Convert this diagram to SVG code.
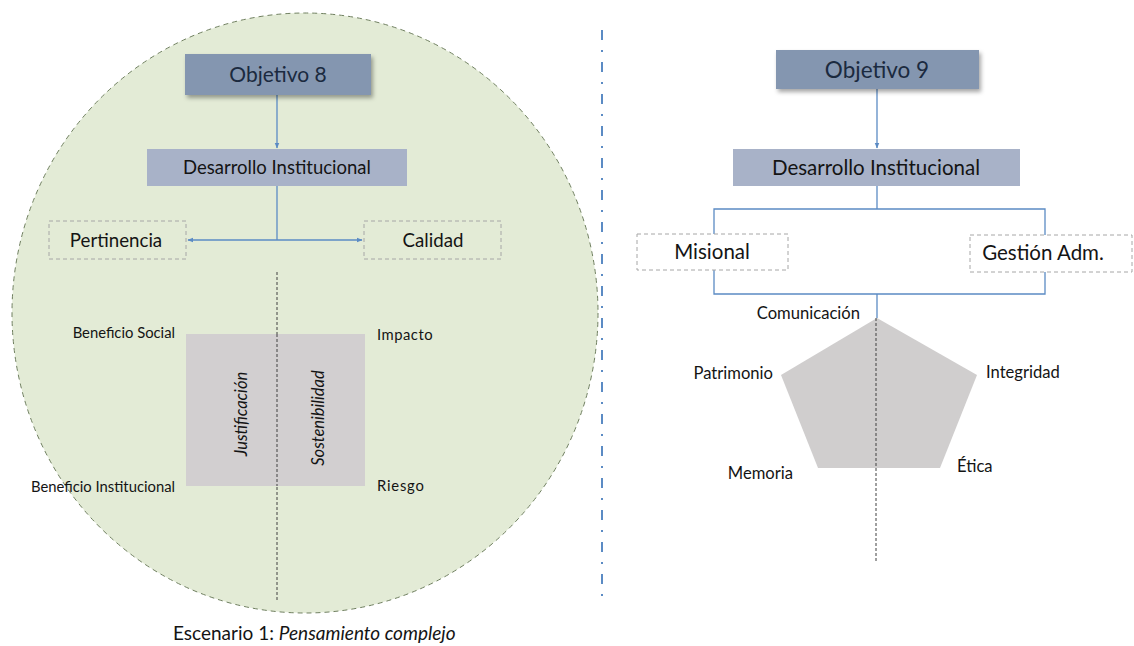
<svg xmlns="http://www.w3.org/2000/svg" width="1134" height="646" viewBox="0 0 1134 646">
<style>
text{font-family:"Lato","Open Sans","Liberation Sans",sans-serif;fill:#141414}
.t8{font-size:21px;fill:#1b2a3f}
.t9{font-size:22.5px;fill:#1b2a3f}
.s8{font-size:18.5px}
.s9{font-size:20.5px}
.b8{font-size:18.7px}
.b9{font-size:20.5px}
.lblL{font-size:14.8px}
.lblR{font-size:16.6px}
.ital{font-size:16.5px;font-style:italic}
.obj{fill:#8496b0}
.des{fill:#a8b2c8}
.dbox{fill:none;stroke:#a6a6a6;stroke-width:1;stroke-dasharray:4 3}
.wbox{fill:#ffffff;stroke:#a6a6a6;stroke-width:1;stroke-dasharray:4 3}
.conn{stroke:#5b8bc4;stroke-width:1.3;fill:none}
.dot{stroke:#404040;stroke-width:1;stroke-dasharray:3 2;fill:none}
</style>
<defs>
<marker id="ah" viewBox="0 0 10 10" refX="9" refY="5" markerWidth="6" markerHeight="6" orient="auto-start-reverse" markerUnits="userSpaceOnUse">
<path d="M0,1 L10,5 L0,9 z" fill="#5b8bc4"/>
</marker>
<filter id="sh" x="-10%" y="-20%" width="130%" height="150%">
<feDropShadow dx="2" dy="3" stdDeviation="2" flood-color="#000" flood-opacity="0.35"/>
</filter>
</defs>
<rect width="1134" height="646" fill="#ffffff"/>

<g id="scenario1">
<ellipse cx="305" cy="313" rx="293" ry="300" fill="#e3ebd6" stroke="#6f7f5f" stroke-width="1" stroke-dasharray="5 4"/>
</g>

<g id="separator">
<line x1="602" y1="30" x2="602" y2="602" stroke="#5b8bc4" stroke-width="2" stroke-dasharray="10 10 2 10"/>
</g>

<g id="connectors">
<line class="conn" x1="277" y1="95" x2="277" y2="148" marker-end="url(#ah)"/>
<line class="conn" x1="277" y1="186" x2="277" y2="240"/>
<line class="conn" x1="188" y1="240" x2="362" y2="240" marker-start="url(#ah)" marker-end="url(#ah)"/>
<line class="dot" x1="277" y1="272" x2="277" y2="600"/>
<line class="conn" x1="877" y1="89" x2="877" y2="148" marker-end="url(#ah)"/>
<line class="conn" x1="877" y1="186" x2="877" y2="209"/>
<polyline class="conn" points="714,234 714,209 1045,209 1045,235"/>
<polyline class="conn" points="714,270 714,294 1045,294 1045,272"/>
<line class="conn" x1="877" y1="294" x2="877" y2="318"/>
</g>

<g id="objetivo8">
<rect class="obj" x="185" y="54" width="186" height="41" filter="url(#sh)"/>
<text class="t8" x="278" y="82" text-anchor="middle">Objetivo 8</text>
</g>
<g id="desarrollo8">
<rect class="des" x="147" y="149" width="260" height="37"/>
<text class="s8" x="277" y="174" text-anchor="middle">Desarrollo Institucional</text>
</g>
<g id="pertinencia">
<rect class="dbox" x="49" y="221" width="137" height="38"/>
<text class="b8" x="116" y="246.5" text-anchor="middle">Pertinencia</text>
</g>
<g id="calidad">
<rect class="dbox" x="364" y="221" width="137" height="38"/>
<text class="b8" x="433" y="246.5" text-anchor="middle">Calidad</text>
</g>

<g id="matrix">
<rect x="186" y="334" width="179" height="152" fill="#d2cfd0"/>
<line class="dot" x1="277" y1="334" x2="277" y2="486"/>
<text class="ital" transform="translate(247,414) rotate(-90)" text-anchor="middle">Justificación</text>
<text class="ital" transform="translate(324,418) rotate(-90)" text-anchor="middle">Sostenibilidad</text>
<text class="lblL" x="175" y="338" text-anchor="end">Beneficio Social</text>
<text class="lblL" x="175" y="492" text-anchor="end">Beneficio Institucional</text>
<text class="lblL" x="377" y="340" letter-spacing="0.5">Impacto</text>
<text class="lblL" x="377" y="491" letter-spacing="0.8">Riesgo</text>
</g>

<g id="caption">
<text x="173" y="640" font-size="19">Escenario 1: <tspan font-style="italic">Pensamiento complejo</tspan></text>
</g>

<g id="objetivo9">
<rect class="obj" x="776" y="50" width="203" height="39" filter="url(#sh)"/>
<text class="t9" x="877" y="78" text-anchor="middle">Objetivo 9</text>
</g>
<g id="desarrollo9">
<rect class="des" x="733" y="149" width="287" height="37"/>
<text class="s9" x="876" y="175" text-anchor="middle">Desarrollo Institucional</text>
</g>
<g id="misional">
<rect class="wbox" x="637" y="234" width="151" height="36"/>
<text class="b9" x="712" y="259" text-anchor="middle">Misional</text>
</g>
<g id="gestion">
<rect class="wbox" x="970" y="235" width="162" height="37"/>
<text class="b9" x="1043" y="260" text-anchor="middle">Gestión Adm.</text>
</g>

<g id="pentagon">
<polygon points="877,318 977,375 940,468 818,468 781,375" fill="#d0cece"/>
<line class="dot" x1="876" y1="318" x2="876" y2="562"/>
<text class="lblR" x="860" y="319" text-anchor="end">Comunicación</text>
<text class="lblR" x="773" y="379" text-anchor="end">Patrimonio</text>
<text class="lblR" x="986" y="378">Integridad</text>
<text class="lblR" x="793" y="479" text-anchor="end">Memoria</text>
<text class="lblR" x="957" y="472">Ética</text>
</g>
</svg>
